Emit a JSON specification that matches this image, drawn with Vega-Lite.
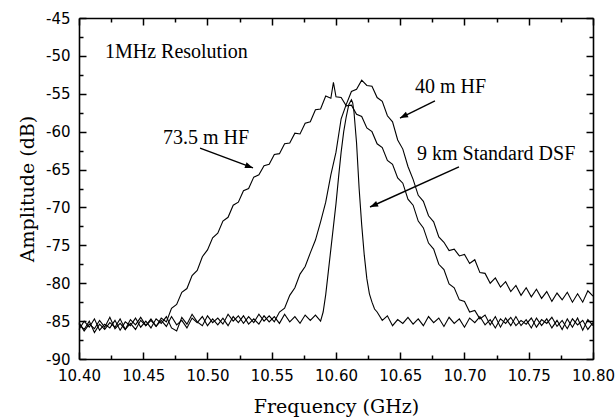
{
"$schema":"https://vega.github.io/schema/vega-lite/v6.json",
"width":514,"height":341,
"autosize":{"type":"none"},
"padding":{"left":79,"top":18,"right":23,"bottom":58},
"background":"white",
"config":{"view":{"stroke":null},"axis":{"grid":false,"domainColor":"black","tickColor":"black","labelColor":"black","titleColor":"black","domainWidth":1.6,"tickWidth":1.5,"labelFlush":false,"labelOverlap":false}},
"datasets":{
"curves":[
{"s":"A","f":10.400,"a":-85.2},{"s":"A","f":10.404,"a":-86.3},{"s":"A","f":10.408,"a":-85.4},{"s":"A","f":10.412,"a":-86.0},{"s":"A","f":10.416,"a":-84.9},{"s":"A","f":10.420,"a":-85.8},{"s":"A","f":10.424,"a":-84.5},{"s":"A","f":10.428,"a":-86.0},{"s":"A","f":10.432,"a":-85.3},{"s":"A","f":10.436,"a":-86.1},{"s":"A","f":10.440,"a":-84.8},{"s":"A","f":10.444,"a":-85.5},{"s":"A","f":10.448,"a":-84.5},{"s":"A","f":10.452,"a":-85.6},{"s":"A","f":10.456,"a":-84.9},{"s":"A","f":10.460,"a":-85.7},{"s":"A","f":10.464,"a":-84.6},{"s":"A","f":10.468,"a":-85.1},{"s":"A","f":10.472,"a":-83.3},{"s":"A","f":10.476,"a":-82.8},{"s":"A","f":10.480,"a":-81.2},{"s":"A","f":10.484,"a":-80.7},{"s":"A","f":10.488,"a":-79.0},{"s":"A","f":10.492,"a":-78.3},{"s":"A","f":10.496,"a":-76.5},{"s":"A","f":10.500,"a":-75.6},{"s":"A","f":10.504,"a":-74.0},{"s":"A","f":10.508,"a":-73.4},{"s":"A","f":10.512,"a":-71.8},{"s":"A","f":10.516,"a":-71.3},{"s":"A","f":10.520,"a":-69.7},{"s":"A","f":10.524,"a":-69.3},{"s":"A","f":10.528,"a":-67.8},{"s":"A","f":10.532,"a":-67.5},{"s":"A","f":10.536,"a":-66.0},{"s":"A","f":10.540,"a":-65.7},{"s":"A","f":10.544,"a":-64.5},{"s":"A","f":10.548,"a":-64.3},{"s":"A","f":10.552,"a":-63.0},{"s":"A","f":10.556,"a":-62.9},{"s":"A","f":10.560,"a":-61.6},{"s":"A","f":10.564,"a":-61.5},{"s":"A","f":10.568,"a":-60.2},{"s":"A","f":10.572,"a":-60.3},{"s":"A","f":10.576,"a":-58.9},{"s":"A","f":10.580,"a":-58.7},{"s":"A","f":10.584,"a":-57.1},{"s":"A","f":10.588,"a":-57.0},{"s":"A","f":10.592,"a":-55.3},{"s":"A","f":10.596,"a":-55.6},{"s":"A","f":10.598,"a":-53.5},{"s":"A","f":10.600,"a":-55.4},{"s":"A","f":10.604,"a":-55.5},{"s":"A","f":10.608,"a":-56.6},{"s":"A","f":10.612,"a":-56.5},{"s":"A","f":10.616,"a":-57.7},{"s":"A","f":10.620,"a":-58.0},{"s":"A","f":10.624,"a":-59.5},{"s":"A","f":10.628,"a":-60.0},{"s":"A","f":10.632,"a":-61.6},{"s":"A","f":10.636,"a":-62.1},{"s":"A","f":10.640,"a":-63.8},{"s":"A","f":10.644,"a":-64.3},{"s":"A","f":10.648,"a":-66.1},{"s":"A","f":10.652,"a":-66.8},{"s":"A","f":10.656,"a":-68.9},{"s":"A","f":10.660,"a":-69.7},{"s":"A","f":10.664,"a":-71.8},{"s":"A","f":10.668,"a":-72.7},{"s":"A","f":10.672,"a":-74.7},{"s":"A","f":10.676,"a":-75.5},{"s":"A","f":10.680,"a":-77.5},{"s":"A","f":10.684,"a":-78.2},{"s":"A","f":10.688,"a":-80.1},{"s":"A","f":10.692,"a":-80.6},{"s":"A","f":10.696,"a":-82.2},{"s":"A","f":10.700,"a":-82.4},{"s":"A","f":10.704,"a":-83.8},{"s":"A","f":10.708,"a":-83.6},{"s":"A","f":10.712,"a":-84.7},{"s":"A","f":10.716,"a":-84.2},{"s":"A","f":10.720,"a":-85.5},{"s":"A","f":10.724,"a":-84.4},{"s":"A","f":10.728,"a":-85.8},{"s":"A","f":10.732,"a":-84.6},{"s":"A","f":10.736,"a":-85.6},{"s":"A","f":10.740,"a":-84.4},{"s":"A","f":10.744,"a":-85.6},{"s":"A","f":10.748,"a":-84.8},{"s":"A","f":10.752,"a":-85.9},{"s":"A","f":10.756,"a":-84.6},{"s":"A","f":10.760,"a":-85.6},{"s":"A","f":10.764,"a":-84.7},{"s":"A","f":10.768,"a":-85.9},{"s":"A","f":10.772,"a":-84.9},{"s":"A","f":10.776,"a":-86.1},{"s":"A","f":10.780,"a":-84.7},{"s":"A","f":10.784,"a":-85.8},{"s":"A","f":10.788,"a":-84.6},{"s":"A","f":10.792,"a":-86.2},{"s":"A","f":10.796,"a":-84.8},{"s":"A","f":10.800,"a":-85.6},
{"s":"B","f":10.400,"a":-86.1},{"s":"B","f":10.404,"a":-85.0},{"s":"B","f":10.408,"a":-85.8},{"s":"B","f":10.412,"a":-84.7},{"s":"B","f":10.416,"a":-86.2},{"s":"B","f":10.420,"a":-85.4},{"s":"B","f":10.424,"a":-85.9},{"s":"B","f":10.428,"a":-84.9},{"s":"B","f":10.432,"a":-86.2},{"s":"B","f":10.436,"a":-85.1},{"s":"B","f":10.440,"a":-85.6},{"s":"B","f":10.444,"a":-84.6},{"s":"B","f":10.448,"a":-85.8},{"s":"B","f":10.452,"a":-85.0},{"s":"B","f":10.456,"a":-85.9},{"s":"B","f":10.460,"a":-84.7},{"s":"B","f":10.464,"a":-85.3},{"s":"B","f":10.468,"a":-84.4},{"s":"B","f":10.472,"a":-85.9},{"s":"B","f":10.476,"a":-86.3},{"s":"B","f":10.480,"a":-84.5},{"s":"B","f":10.484,"a":-85.4},{"s":"B","f":10.488,"a":-84.1},{"s":"B","f":10.492,"a":-85.1},{"s":"B","f":10.496,"a":-85.6},{"s":"B","f":10.500,"a":-84.3},{"s":"B","f":10.504,"a":-85.2},{"s":"B","f":10.508,"a":-84.6},{"s":"B","f":10.512,"a":-85.4},{"s":"B","f":10.516,"a":-84.1},{"s":"B","f":10.520,"a":-85.0},{"s":"B","f":10.524,"a":-84.3},{"s":"B","f":10.528,"a":-85.3},{"s":"B","f":10.532,"a":-84.4},{"s":"B","f":10.536,"a":-85.2},{"s":"B","f":10.540,"a":-84.1},{"s":"B","f":10.544,"a":-85.0},{"s":"B","f":10.548,"a":-84.3},{"s":"B","f":10.552,"a":-85.1},{"s":"B","f":10.556,"a":-83.8},{"s":"B","f":10.560,"a":-83.3},{"s":"B","f":10.564,"a":-81.6},{"s":"B","f":10.568,"a":-80.6},{"s":"B","f":10.572,"a":-78.8},{"s":"B","f":10.576,"a":-77.8},{"s":"B","f":10.580,"a":-76.0},{"s":"B","f":10.584,"a":-74.3},{"s":"B","f":10.588,"a":-71.9},{"s":"B","f":10.592,"a":-69.3},{"s":"B","f":10.596,"a":-65.7},{"s":"B","f":10.600,"a":-62.7},{"s":"B","f":10.604,"a":-58.3},{"s":"B","f":10.608,"a":-56.4},{"s":"B","f":10.612,"a":-54.7},{"s":"B","f":10.616,"a":-54.4},{"s":"B","f":10.620,"a":-53.2},{"s":"B","f":10.624,"a":-53.9},{"s":"B","f":10.628,"a":-54.0},{"s":"B","f":10.632,"a":-55.5},{"s":"B","f":10.636,"a":-56.0},{"s":"B","f":10.640,"a":-57.9},{"s":"B","f":10.644,"a":-58.7},{"s":"B","f":10.648,"a":-61.1},{"s":"B","f":10.652,"a":-62.3},{"s":"B","f":10.656,"a":-64.6},{"s":"B","f":10.660,"a":-66.3},{"s":"B","f":10.664,"a":-68.4},{"s":"B","f":10.668,"a":-69.2},{"s":"B","f":10.672,"a":-71.1},{"s":"B","f":10.676,"a":-71.9},{"s":"B","f":10.680,"a":-73.9},{"s":"B","f":10.684,"a":-74.6},{"s":"B","f":10.688,"a":-75.7},{"s":"B","f":10.692,"a":-75.5},{"s":"B","f":10.696,"a":-76.4},{"s":"B","f":10.700,"a":-76.2},{"s":"B","f":10.704,"a":-77.4},{"s":"B","f":10.708,"a":-76.9},{"s":"B","f":10.712,"a":-78.6},{"s":"B","f":10.716,"a":-78.7},{"s":"B","f":10.720,"a":-80.0},{"s":"B","f":10.724,"a":-79.3},{"s":"B","f":10.728,"a":-80.5},{"s":"B","f":10.732,"a":-79.8},{"s":"B","f":10.736,"a":-81.1},{"s":"B","f":10.740,"a":-80.3},{"s":"B","f":10.744,"a":-81.6},{"s":"B","f":10.748,"a":-80.6},{"s":"B","f":10.752,"a":-81.8},{"s":"B","f":10.756,"a":-80.8},{"s":"B","f":10.760,"a":-82.0},{"s":"B","f":10.764,"a":-81.1},{"s":"B","f":10.768,"a":-82.4},{"s":"B","f":10.772,"a":-81.3},{"s":"B","f":10.776,"a":-82.2},{"s":"B","f":10.780,"a":-81.2},{"s":"B","f":10.784,"a":-82.5},{"s":"B","f":10.788,"a":-81.4},{"s":"B","f":10.792,"a":-82.5},{"s":"B","f":10.796,"a":-81.0},{"s":"B","f":10.800,"a":-81.7},
{"s":"C","f":10.400,"a":-85.4},{"s":"C","f":10.404,"a":-86.1},{"s":"C","f":10.408,"a":-85.0},{"s":"C","f":10.412,"a":-86.5},{"s":"C","f":10.416,"a":-85.4},{"s":"C","f":10.420,"a":-86.1},{"s":"C","f":10.424,"a":-85.2},{"s":"C","f":10.428,"a":-85.8},{"s":"C","f":10.432,"a":-84.7},{"s":"C","f":10.436,"a":-86.1},{"s":"C","f":10.440,"a":-85.3},{"s":"C","f":10.444,"a":-86.1},{"s":"C","f":10.448,"a":-84.9},{"s":"C","f":10.452,"a":-85.6},{"s":"C","f":10.456,"a":-84.7},{"s":"C","f":10.460,"a":-85.7},{"s":"C","f":10.464,"a":-84.9},{"s":"C","f":10.468,"a":-85.7},{"s":"C","f":10.472,"a":-84.4},{"s":"C","f":10.476,"a":-85.5},{"s":"C","f":10.480,"a":-84.9},{"s":"C","f":10.484,"a":-85.9},{"s":"C","f":10.488,"a":-84.6},{"s":"C","f":10.492,"a":-85.2},{"s":"C","f":10.496,"a":-84.4},{"s":"C","f":10.500,"a":-85.6},{"s":"C","f":10.504,"a":-84.7},{"s":"C","f":10.508,"a":-85.5},{"s":"C","f":10.512,"a":-84.6},{"s":"C","f":10.516,"a":-85.6},{"s":"C","f":10.520,"a":-84.4},{"s":"C","f":10.524,"a":-85.2},{"s":"C","f":10.528,"a":-84.3},{"s":"C","f":10.532,"a":-85.4},{"s":"C","f":10.536,"a":-84.7},{"s":"C","f":10.540,"a":-85.4},{"s":"C","f":10.544,"a":-84.3},{"s":"C","f":10.548,"a":-85.1},{"s":"C","f":10.552,"a":-84.4},{"s":"C","f":10.556,"a":-85.3},{"s":"C","f":10.560,"a":-84.1},{"s":"C","f":10.564,"a":-85.1},{"s":"C","f":10.568,"a":-84.4},{"s":"C","f":10.572,"a":-85.3},{"s":"C","f":10.576,"a":-84.2},{"s":"C","f":10.580,"a":-84.9},{"s":"C","f":10.584,"a":-84.2},{"s":"C","f":10.588,"a":-85.0},{"s":"C","f":10.590,"a":-83.8},{"s":"C","f":10.592,"a":-81.5},{"s":"C","f":10.594,"a":-78.5},{"s":"C","f":10.596,"a":-75.5},{"s":"C","f":10.598,"a":-72.5},{"s":"C","f":10.600,"a":-69.5},{"s":"C","f":10.602,"a":-66.0},{"s":"C","f":10.604,"a":-62.7},{"s":"C","f":10.606,"a":-60.0},{"s":"C","f":10.608,"a":-58.0},{"s":"C","f":10.610,"a":-56.4},{"s":"C","f":10.612,"a":-55.8},{"s":"C","f":10.613,"a":-56.2},{"s":"C","f":10.614,"a":-57.4},{"s":"C","f":10.616,"a":-61.5},{"s":"C","f":10.618,"a":-67.5},{"s":"C","f":10.620,"a":-72.3},{"s":"C","f":10.622,"a":-76.3},{"s":"C","f":10.624,"a":-79.4},{"s":"C","f":10.626,"a":-81.4},{"s":"C","f":10.628,"a":-82.5},{"s":"C","f":10.630,"a":-83.4},{"s":"C","f":10.632,"a":-83.8},{"s":"C","f":10.636,"a":-84.9},{"s":"C","f":10.640,"a":-84.3},{"s":"C","f":10.644,"a":-85.6},{"s":"C","f":10.648,"a":-84.8},{"s":"C","f":10.652,"a":-85.3},{"s":"C","f":10.656,"a":-84.5},{"s":"C","f":10.660,"a":-85.4},{"s":"C","f":10.664,"a":-84.7},{"s":"C","f":10.668,"a":-85.6},{"s":"C","f":10.672,"a":-84.4},{"s":"C","f":10.676,"a":-85.2},{"s":"C","f":10.680,"a":-84.6},{"s":"C","f":10.684,"a":-85.7},{"s":"C","f":10.688,"a":-84.5},{"s":"C","f":10.692,"a":-85.3},{"s":"C","f":10.696,"a":-84.7},{"s":"C","f":10.700,"a":-85.8},{"s":"C","f":10.704,"a":-84.6},{"s":"C","f":10.708,"a":-85.2},{"s":"C","f":10.712,"a":-84.4},{"s":"C","f":10.716,"a":-85.5},{"s":"C","f":10.720,"a":-84.8},{"s":"C","f":10.724,"a":-85.9},{"s":"C","f":10.728,"a":-84.7},{"s":"C","f":10.732,"a":-85.3},{"s":"C","f":10.736,"a":-84.5},{"s":"C","f":10.740,"a":-85.6},{"s":"C","f":10.744,"a":-84.9},{"s":"C","f":10.748,"a":-85.4},{"s":"C","f":10.752,"a":-84.6},{"s":"C","f":10.756,"a":-85.8},{"s":"C","f":10.760,"a":-84.8},{"s":"C","f":10.764,"a":-85.3},{"s":"C","f":10.768,"a":-84.5},{"s":"C","f":10.772,"a":-85.7},{"s":"C","f":10.776,"a":-84.9},{"s":"C","f":10.780,"a":-86.0},{"s":"C","f":10.784,"a":-84.7},{"s":"C","f":10.788,"a":-85.5},{"s":"C","f":10.792,"a":-84.9},{"s":"C","f":10.796,"a":-86.1},{"s":"C","f":10.800,"a":-85.2}
],
"arrows":[
{"x1":10.4942,"y1":-62.16,"x2":10.5354,"y2":-64.79,"ang":20.7},
{"x1":10.677,"y1":-55.95,"x2":10.6498,"y2":-58.2,"ang":154.1},
{"x1":10.6957,"y1":-64.66,"x2":10.6265,"y2":-69.94,"ang":155.8}
],
"notes":[
{"x":10.4202,"y":-50.28,"label":"1MHz Resolution"},
{"x":10.4654,"y":-61.63,"label":"73.5 m HF"},
{"x":10.6615,"y":-54.9,"label":"40 m HF"},
{"x":10.663,"y":-63.74,"label":"9 km Standard DSF"}
]
},
"layer":[
{"data":{"name":"curves"},
 "mark":{"type":"line","color":"black","strokeWidth":1.1},
 "encoding":{
  "x":{"field":"f","type":"quantitative","scale":{"domain":[10.4,10.8],"nice":false,"zero":false},
   "axis":{"orient":"bottom","values":[10.4,10.45,10.5,10.55,10.6,10.65,10.7,10.75,10.8],"format":".2f","tickSize":-7,"labelPadding":16,"labelFont":"DejaVu Sans","labelFontSize":15,"title":"Frequency (GHz)","titleFont":"DejaVu Serif","titleFontSize":19,"titleFontWeight":"normal","titlePadding":14}},
  "y":{"field":"a","type":"quantitative","scale":{"domain":[-90,-45],"nice":false,"zero":false},
   "axis":{"orient":"left","values":[-90,-85,-80,-75,-70,-65,-60,-55,-50,-45],"labelExpr":"toString(datum.value)","tickSize":-7,"labelPadding":16,"labelFont":"DejaVu Sans","labelFontSize":15,"title":"Amplitude (dB)","titleFont":"DejaVu Serif","titleFontSize":19,"titleFontWeight":"normal","titlePadding":8}},
  "detail":{"field":"s"}
 }},
{"data":{"name":"arrows"},
 "mark":{"type":"rule","color":"black","strokeWidth":1.4},
 "encoding":{
  "x":{"field":"x1","type":"quantitative","scale":{"domain":[10.4,10.8],"nice":false,"zero":false},
   "axis":{"orient":"top","values":[10.4,10.45,10.5,10.55,10.6,10.65,10.7,10.75,10.8],"tickSize":-7,"labels":false,"title":null}},
  "y":{"field":"y1","type":"quantitative","scale":{"domain":[-90,-45],"nice":false,"zero":false},
   "axis":{"orient":"right","values":[-90,-85,-80,-75,-70,-65,-60,-55,-50,-45],"tickSize":-7,"labels":false,"title":null}},
  "x2":{"field":"x2"},"y2":{"field":"y2"}
 }},
{"data":{"name":"arrows"},
 "mark":{"type":"point","shape":"M0,0L-2,-0.75L-2,0.75Z","filled":true,"color":"black","size":64,"opacity":1},
 "encoding":{
  "x":{"field":"x2","type":"quantitative","scale":{"domain":[10.4,10.8],"nice":false,"zero":false},
   "axis":{"orient":"bottom","values":[10.425,10.475,10.525,10.575,10.625,10.675,10.725,10.775],"tickSize":-4,"labels":false,"domain":false,"title":null}},
  "y":{"field":"y2","type":"quantitative","scale":{"domain":[-90,-45],"nice":false,"zero":false},
   "axis":{"orient":"left","values":[-87.5,-82.5,-77.5,-72.5,-67.5,-62.5,-57.5,-52.5,-47.5],"tickSize":-4,"labels":false,"domain":false,"title":null}},
  "angle":{"field":"ang","type":"quantitative","scale":null}
 }},
{"data":{"name":"notes"},
 "mark":{"type":"text","font":"Liberation Serif","fontSize":20,"align":"left","baseline":"alphabetic","color":"black"},
 "encoding":{
  "x":{"field":"x","type":"quantitative","scale":{"domain":[10.4,10.8],"nice":false,"zero":false},
   "axis":{"orient":"top","values":[10.425,10.475,10.525,10.575,10.625,10.675,10.725,10.775],"tickSize":-4,"labels":false,"domain":false,"title":null}},
  "y":{"field":"y","type":"quantitative","scale":{"domain":[-90,-45],"nice":false,"zero":false},
   "axis":{"orient":"right","values":[-87.5,-82.5,-77.5,-72.5,-67.5,-62.5,-57.5,-52.5,-47.5],"tickSize":-4,"labels":false,"domain":false,"title":null}},
  "text":{"field":"label"}
 }}
],
"resolve":{"axis":{"x":"independent","y":"independent"}}
}
